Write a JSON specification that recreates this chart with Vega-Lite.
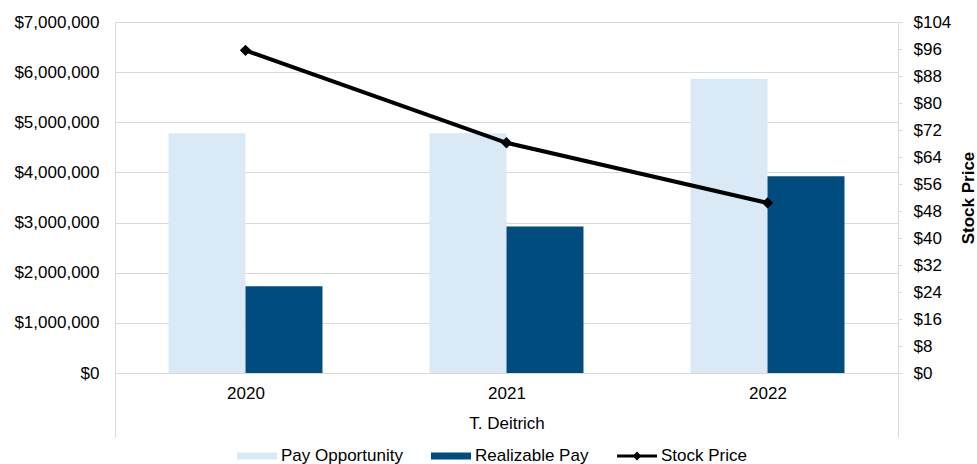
{
  "$schema": "https://vega.github.io/schema/vega-lite/v6.json",
  "width": 783,
  "height": 351,
  "padding": {"left": 13, "top": 13, "right": 5, "bottom": 0},
  "background": "white",
  "config": {
    "font": "Liberation Sans",
    "view": {"stroke": null}
  },
  "datasets": {
    "pay": [
      {"year": "2020", "series": "Pay Opportunity", "value": 4780000},
      {"year": "2020", "series": "Realizable Pay", "value": 1730000},
      {"year": "2021", "series": "Pay Opportunity", "value": 4780000},
      {"year": "2021", "series": "Realizable Pay", "value": 2920000},
      {"year": "2022", "series": "Pay Opportunity", "value": 5870000},
      {"year": "2022", "series": "Realizable Pay", "value": 3925000}
    ],
    "stock": [
      {"year": "2020", "price": 95.6},
      {"year": "2021", "price": 68.2},
      {"year": "2022", "price": 50.4}
    ]
  },
  "layer": [
    {
      "data": {"name": "pay"},
      "mark": {"type": "bar"},
      "encoding": {
        "x": {
          "field": "year",
          "type": "nominal",
          "scale": {"paddingInner": 0, "paddingOuter": 0},
          "axis": {
            "title": "T. Deitrich",
            "titleFontSize": 17,
            "titleFontWeight": "normal",
            "titleColor": "#000000",
            "titleY": 42,
            "titleBaseline": "top",
            "labelAngle": 0,
            "labelFontSize": 17,
            "labelColor": "#000000",
            "labelPadding": -52,
            "domainColor": "#d9d9d9",
            "tickSize": 64,
            "tickWidth": 1,
            "tickBand": "extent",
            "tickExtra": true,
            "tickColor": "#d9d9d9",
            "tickOpacity": {
              "condition": {"test": "datum.label === '2020' || datum.label === '2021'", "value": 0},
              "value": 1
            }
          }
        },
        "xOffset": {
          "field": "series",
          "type": "nominal",
          "sort": ["Pay Opportunity", "Realizable Pay"],
          "scale": {"paddingInner": 0, "paddingOuter": 0.695}
        },
        "y": {
          "field": "value",
          "type": "quantitative",
          "scale": {"domain": [0, 7000000]},
          "axis": {
            "title": null,
            "values": [0, 1000000, 2000000, 3000000, 4000000, 5000000, 6000000, 7000000],
            "format": "$,.0f",
            "labelFontSize": 17,
            "labelColor": "#000000",
            "ticks": false,
            "labelPadding": 16,
            "domainColor": "#d9d9d9",
            "gridColor": "#d9d9d9",
            "grid": true
          }
        },
        "color": {
          "field": "series",
          "type": "nominal",
          "scale": {
            "domain": ["Pay Opportunity", "Realizable Pay", "Stock Price"],
            "range": ["#DAE9F6", "#004C7E", "#000000"]
          },
          "legend": {
            "orient": "none",
            "legendX": 122,
            "legendY": 414,
            "direction": "horizontal",
            "title": null,
            "symbolSize": 1600,
            "symbolStrokeWidth": 0,
            "labelFontSize": 17,
            "labelColor": "#000000",
            "labelOffset": 4,
            "columnPadding": 28,
            "encode": {
              "symbols": {
                "update": {
                  "shape": {"signal": "datum.value === 'Stock Price' ? 'M-1,-0.075H1V0.075H-1Z M0,-0.225L0.225,0L0,0.225L-0.225,0Z' : 'M-1,-0.175H1V0.175H-1Z'"}
                }
              }
            }
          }
        }
      }
    },
    {
      "data": {"name": "stock"},
      "mark": {
        "type": "line",
        "color": "#000000",
        "strokeWidth": 4,
        "point": {"shape": "diamond", "size": 130, "filled": true, "color": "#000000"}
      },
      "encoding": {
        "x": {"field": "year", "type": "nominal", "axis": {"title": "T. Deitrich"}},
        "y": {
          "field": "price",
          "type": "quantitative",
          "scale": {"domain": [0, 104]},
          "axis": {
            "orient": "right",
            "title": "Stock Price",
            "titleFontSize": 17,
            "titleFontWeight": "bold",
            "titleColor": "#000000",
            "titleAngle": 270,
            "titleBaseline": "top",
            "titlePadding": 10,
            "values": [0, 8, 16, 24, 32, 40, 48, 56, 64, 72, 80, 88, 96, 104],
            "format": "$,.0f",
            "labelFontSize": 17,
            "labelColor": "#000000",
            "tickSize": 4,
            "tickColor": "#d9d9d9",
            "labelPadding": 11,
            "domainColor": "#d9d9d9",
            "grid": false
          }
        }
      }
    }
  ],
  "resolve": {"scale": {"y": "independent"}}
}
